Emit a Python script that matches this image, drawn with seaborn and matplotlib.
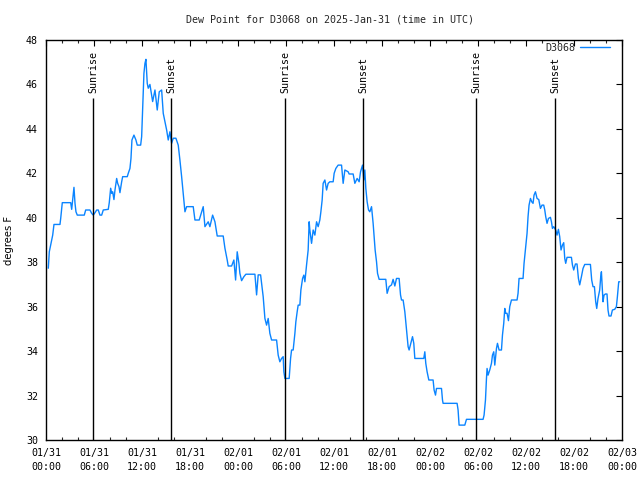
import matplotlib
matplotlib.use("Agg")
import matplotlib.pyplot as plt
import seaborn as sns
import pandas as pd

# ---- data -------------------------------------------------------------
station = "D3068"
title = "Dew Point for D3068 on 2025-Jan-31 (time in UTC)"

# hours since 2025-01-31 00:00 UTC
hours = [0.25, 0.375, 0.55, 0.675, 0.8, 0.96, 1.71, 1.8, 2.0, 3.05, 3.175, 3.375, 3.46, 3.59, 3.71,
         3.875, 4.75, 4.925, 5.46, 5.675, 5.875, 6.09, 6.3, 6.5, 6.71, 6.925, 7.125, 7.75, 7.875,
         8.05, 8.175, 8.3, 8.46, 8.59, 8.8, 8.925, 9.09, 9.21, 9.425, 9.55, 10.125, 10.25, 10.46,
         10.59, 10.71, 10.96, 11.21, 11.375, 11.8, 11.925, 12.05, 12.21, 12.34, 12.46, 12.625,
         12.75, 12.96, 13.3, 13.59, 13.875, 14.125, 14.425, 14.625, 14.84, 15.05, 15.25, 15.46,
         15.675, 15.875, 16.21, 16.5, 16.71, 16.925, 17.125, 17.34, 17.55, 18.375, 18.59, 19.125,
         19.425, 19.625, 19.84, 20.25, 20.46, 20.8, 21.09, 21.375, 22.125, 22.34, 22.625, 22.75,
         23.175, 23.46, 23.675, 23.875, 24.09, 24.21, 24.425, 24.71, 24.96, 26.09, 26.3, 26.5,
         26.8, 27.125, 27.34, 27.55, 27.75, 27.96, 28.175, 28.8, 29.0, 29.21, 29.425, 29.625,
         29.71, 29.84, 30.375, 30.55, 30.675, 30.875, 31.09, 31.21, 31.375, 31.5, 31.71, 31.84,
         32.05, 32.21, 32.34, 32.55, 32.75, 32.875, 32.96, 33.175, 33.375, 33.59, 33.8, 34.0,
         34.21, 34.34, 34.5, 34.625, 34.84, 35.05, 35.25, 35.46, 35.875, 36.0, 36.21, 36.5,
         36.925, 37.125, 37.34, 37.75, 37.875, 38.375, 38.59, 38.875, 39.125, 39.3, 39.55, 39.71,
         39.84, 39.96, 40.125, 40.3, 40.46, 40.675, 40.875, 41.0, 41.125, 41.3, 41.425, 41.625,
         42.46, 42.625, 42.875, 43.175, 43.375, 43.59, 43.8, 44.125, 44.3, 44.425, 44.625, 44.84,
         45.05, 45.25, 45.375, 45.59, 45.8, 45.96, 46.09, 47.21, 47.34, 47.46, 47.625, 47.84,
         48.375, 48.5, 48.675, 48.8, 49.425, 49.55, 49.625, 51.375, 51.5, 51.625, 52.34, 52.55,
         54.625, 54.75, 54.925, 55.05, 55.125, 55.25, 55.46, 55.675, 55.8, 55.96, 56.09, 56.3,
         56.425, 56.625, 56.925, 57.05, 57.21, 57.34, 57.46, 57.625, 57.8, 57.96, 58.175, 58.875,
         59.0, 59.125, 59.625, 59.75, 59.96, 60.125, 60.25, 60.375, 60.55, 60.71, 60.875, 61.0,
         61.175, 61.375, 61.59, 61.8, 62.0, 62.21, 62.34, 62.46, 62.625, 62.8, 63.05, 63.175,
         63.3, 63.46, 63.71, 63.875, 64.05, 64.21, 64.375, 64.55, 64.71, 64.84, 64.96, 65.125,
         65.675, 65.8, 65.96, 66.175, 66.375, 66.55, 66.71, 66.925, 67.125, 67.34, 68.05, 68.21,
         68.375, 68.55, 68.71, 68.84, 69.0, 69.21, 69.34, 69.425, 69.55, 69.625, 69.75, 69.925,
         70.125, 70.25, 70.375, 70.625, 70.8, 71.09, 71.3, 71.425, 71.59, 71.71]

dew_point = [37.73, 38.47, 38.78, 39.0, 39.22, 39.7, 39.7, 39.97, 40.68, 40.68, 40.38, 41.1, 41.37,
             40.65, 40.27, 40.12, 40.12, 40.35, 40.35, 40.2, 40.12, 40.23, 40.35, 40.35, 40.12,
             40.12, 40.35, 40.38, 40.68, 41.33, 41.1, 41.17, 40.82, 41.25, 41.77, 41.55, 41.4,
             41.13, 41.62, 41.85, 41.85, 42.0, 42.22, 42.67, 43.5, 43.72, 43.5, 43.27, 43.27,
             43.65, 44.85, 46.5, 46.95, 47.13, 46.05, 45.83, 46.0, 45.23, 45.75, 44.85, 45.67,
             45.75, 44.7, 44.32, 43.95, 43.5, 43.87, 43.35, 43.58, 43.58, 43.27, 42.6, 41.85,
             41.1, 40.27, 40.5, 40.5, 39.9, 39.9, 40.27, 40.5, 39.6, 39.82, 39.6, 40.12, 39.82,
             39.18, 39.18, 38.63, 38.1, 37.83, 37.83, 38.1, 37.2, 38.47, 37.95, 37.5, 37.17,
             37.35, 37.46, 37.46, 36.53, 37.43, 37.43, 36.45, 35.47, 35.17, 35.47, 34.8, 34.5,
             34.5, 33.82, 33.52, 33.67, 33.75, 33.07, 32.77, 32.77, 33.67, 34.05, 34.05, 34.8,
             35.32, 35.77, 36.07, 36.07, 36.75, 37.27, 37.42, 37.12, 37.88, 38.55, 39.82, 39.45,
             38.85, 39.45, 39.22, 39.82, 39.6, 39.9, 40.27, 40.8, 41.55, 41.7, 41.25, 41.55,
             41.62, 41.62, 42.0, 42.22, 42.37, 42.37, 41.55, 42.15, 42.07, 41.97, 41.97, 41.55,
             41.77, 41.62, 42.07, 42.37, 41.7, 42.15, 41.33, 40.72, 40.35, 40.27, 40.5, 39.75,
             39.15, 38.55, 38.02, 37.5, 37.23, 37.23, 36.6, 36.9, 36.98, 37.23, 36.93, 37.27,
             37.27, 36.53, 36.3, 36.3, 35.77, 34.95, 34.2, 34.05, 34.35, 34.65, 34.35, 33.67,
             33.67, 33.97, 33.45, 33.07, 32.7, 32.7, 32.25, 32.02, 32.32, 32.32, 31.8, 31.65,
             31.65, 31.35, 30.67, 30.67, 30.93, 30.93, 31.12, 31.8, 32.77, 33.22, 32.92, 33.15,
             33.45, 33.82, 33.97, 33.37, 34.12, 34.35, 34.05, 34.05, 34.72, 35.25, 35.92, 35.7,
             35.7, 35.37, 36.0, 36.3, 36.3, 36.6, 37.27, 37.27, 37.95, 38.7, 39.3, 40.05, 40.57,
             40.87, 40.72, 40.65, 41.02, 41.17, 40.87, 40.82, 40.42, 40.57, 40.57, 40.35, 40.05,
             39.75, 39.97, 40.02, 39.82, 39.52, 39.6, 39.45, 39.22, 39.48, 39.15, 38.55, 38.77,
             38.88, 38.17, 37.95, 38.22, 38.22, 37.88, 37.65, 37.92, 37.92, 37.27, 36.98, 37.35,
             37.72, 37.9, 37.9, 37.2, 36.9, 36.9, 36.22, 35.92, 36.37, 36.75, 37.35, 37.57,
             36.75, 36.22, 36.52, 36.57, 36.57, 35.85, 35.58, 35.58, 35.85, 35.88, 36.0, 36.45,
             37.12, 37.12]

sun_times = [5.87, 15.63, 29.86, 39.64, 53.8, 63.63]
sun_labels = ["Sunrise", "Sunset", "Sunrise", "Sunset", "Sunrise", "Sunset"]

tick_hours = [0, 6, 12, 18, 24, 30, 36, 42, 48, 54, 60, 66, 72]
tick_labels = ["01/31\n00:00", "01/31\n06:00", "01/31\n12:00", "01/31\n18:00",
               "02/01\n00:00", "02/01\n06:00", "02/01\n12:00", "02/01\n18:00",
               "02/02\n00:00", "02/02\n06:00", "02/02\n12:00", "02/02\n18:00",
               "02/03\n00:00"]
y_ticks = [30, 32, 34, 36, 38, 40, 42, 44, 46, 48]

# ---- plot -------------------------------------------------------------
sns.set_theme(style="white")
plt.rcParams["font.family"] = ["DejaVu Sans Mono", "DejaVu Sans"]
FS = 7.2

df = pd.DataFrame({"hour": hours, "dew": dew_point})

fig = plt.figure(figsize=(6.4, 4.8), dpi=100)
ax = fig.add_axes([46.3 / 640, 40 / 480, 575.7 / 640, 400 / 480])

sns.lineplot(data=df, x="hour", y="dew", ax=ax, color="#0a84ff", linewidth=1.0,
             label=station, estimator=None, sort=False)

ax.vlines(sun_times, 30, 45.38, colors="black", linewidth=1.0)
for t, lab in zip(sun_times, sun_labels):
    ax.text(t, 45.62, lab, rotation=90, ha="center", va="bottom", fontsize=FS, color="black")

ax.set_xlim(0, 72)
ax.set_ylim(30, 48)
ax.set_xticks(tick_hours)
ax.set_xticklabels(tick_labels, fontsize=FS, linespacing=1.45)
ax.set_xticks(range(0, 73, 2), minor=True)
ax.set_yticks(y_ticks)
ax.set_yticklabels([str(v) for v in y_ticks], fontsize=FS)
ax.tick_params(axis="both", which="major", direction="in", length=4, width=0.8,
               top=True, right=True, colors="black", pad=6)
ax.tick_params(axis="x", which="minor", direction="in", length=2, width=0.8,
               top=True, bottom=True)
ax.set_xlabel("")
ax.set_ylabel("degrees F", fontsize=FS, color="black",
              family=["DejaVu Sans", "DejaVu Sans Mono"])
ax.yaxis.set_label_coords((14 - 46.3) / 575.7, 0.5)
for s in ax.spines.values():
    s.set_color("black")
    s.set_linewidth(1.0)

fig.text(330 / 640, 1 - 20 / 480, title, ha="center", va="center", fontsize=FS)

leg = ax.legend(loc="upper right", frameon=False, markerfirst=False, fontsize=FS,
                handlelength=3.0, handletextpad=0.5, borderaxespad=0.0, borderpad=0.0,
                bbox_to_anchor=((610 - 46.3) / 575.7, (440 - 43) / 400))

fig.savefig("out.png", dpi=100)
